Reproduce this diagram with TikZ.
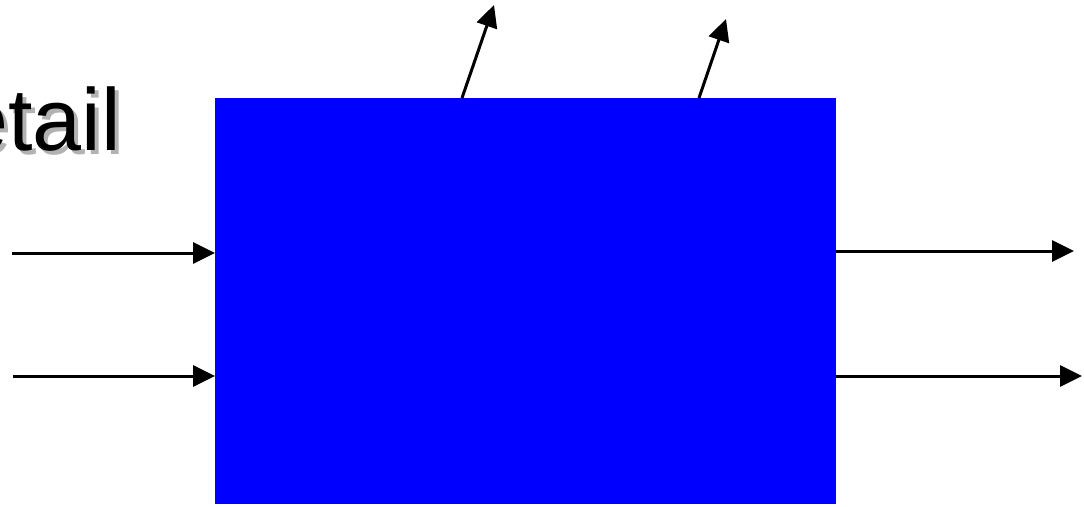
\documentclass[tikz,border=0pt]{standalone}
\usepackage{fontspec}
\setmainfont{Liberation Sans}
\usetikzlibrary{arrows.meta}
\definecolor{boxblue}{RGB}{0,0,255}
\definecolor{shadowgray}{RGB}{178,178,178}
\begin{document}
\begin{tikzpicture}[x=1pt,y=-1pt,
  conn/.style={line width=3pt,-{Triangle[length=22pt,width=21pt]}},
  title/.style={inner sep=0pt,anchor=base east,font=\fontsize{88}{100}\selectfont}]
\useasboundingbox (0,0) rectangle (1084,506);
\node[title,text=shadowgray] (tshadow) at (125,154) {etail};
\node[title,text=black] (t) at (121,150) {etail};
\node[fill=boxblue,draw=none,minimum width=621pt,minimum height=406pt,inner sep=0pt,anchor=north west] (box) at (215,98) {};
\coordinate (in1) at (12,253);
\coordinate (in2) at (13,376);
\coordinate (out1) at (1074,251);
\coordinate (out2) at (1082,376);
\coordinate (up1) at (494,5);
\coordinate (up2) at (726,19);
\draw[conn] (in1) -- (in1 -| box.west);
\draw[conn] (in2) -- (in2 -| box.west);
\draw[conn] (out1 -| box.east) -- (out1);
\draw[conn] (out2 -| box.east) -- (out2);
\draw[conn] (box.north west) ++(247,0) coordinate (s1) (s1) -- (up1);
\draw[conn] (box.north west) ++(484,0) coordinate (s2) (s2) -- (up2);
\end{tikzpicture}
\end{document}
